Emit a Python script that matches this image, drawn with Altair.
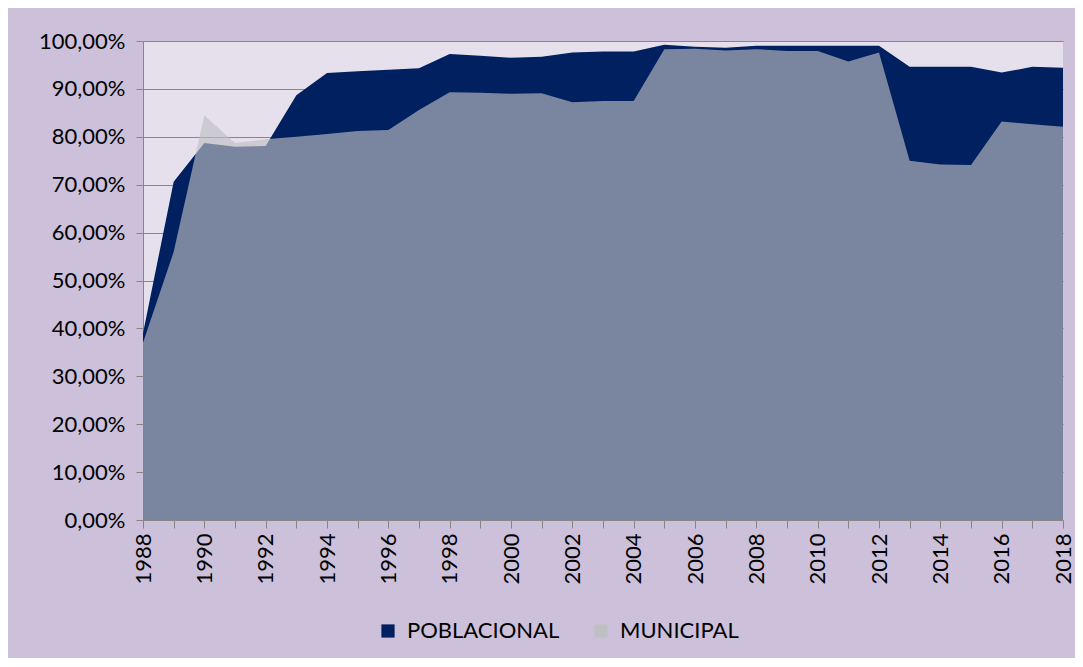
import altair as alt
import pandas as pd

years = list(range(1988, 2019))
poblacional = [39.0, 70.6, 78.7, 77.9, 78.1, 88.7, 93.3, 93.7, 94.0, 94.3, 97.3, 96.9,
               96.5, 96.7, 97.6, 97.8, 97.8, 99.2, 98.8, 98.6, 99.0, 99.0, 99.0, 99.0,
               99.0, 94.6, 94.6, 94.6, 93.4, 94.6, 94.4]
municipal = [37.0, 56.0, 84.5, 78.7, 79.5, 80.0, 80.6, 81.2, 81.4, 85.6, 89.3, 89.2,
             89.0, 89.1, 87.2, 87.5, 87.5, 98.3, 98.4, 98.0, 98.3, 97.9, 97.9, 95.7,
             97.6, 75.0, 74.2, 74.1, 83.2, 82.6, 82.1]
series_names = ["POBLACIONAL", "MUNICIPAL"]
series_colors = ["#002060", "#bfbfc3"]

rows = []
for y, p, m in zip(years, poblacional, municipal):
    rows.append({"year": y, "value": p / 100, "serie": "POBLACIONAL"})
    rows.append({"year": y, "value": m / 100, "serie": "MUNICIPAL"})
df = pd.DataFrame(rows)

FONT = "Lato"

color = alt.Color(
    "serie:N",
    scale=alt.Scale(domain=series_names, range=series_colors),
    legend=alt.Legend(
        title=None, orient="none", direction="horizontal",
        legendX=234, legendY=579, symbolType="square", symbolSize=175,
        symbolOpacity=1, symbolStrokeWidth=0,
        labelFontSize=22, labelFont=FONT, labelColor="#000000",
        columnPadding=30, labelOffset=8,
    ),
)

x = alt.X(
    "year:Q",
    scale=alt.Scale(domain=[1988, 2018], nice=False, zero=False),
    axis=alt.Axis(
        title=None, values=years, labelExpr="datum.value % 2 == 0 ? datum.value : ''",
        labelAngle=270, labelAlign="right", labelBaseline="middle",
        labelFontSize=22, labelFont=FONT, labelColor="#000000",
        tickSize=8, tickColor="#868686", domainColor="#868686",
        grid=False, labelPadding=5, labelOverlap=False,
    ),
)
y = alt.Y(
    "value:Q",
    stack=None,
    scale=alt.Scale(domain=[0, 1], nice=False),
    axis=alt.Axis(
        title=None, values=[i / 10 for i in range(11)],
        labelExpr="replace(format(datum.value, '.2%'), '.', ',')",
        labelFontSize=22, labelFont=FONT, labelColor="#000000",
        tickSize=7, tickColor="#868686", domainColor="#868686",
        grid=True, gridColor="#868686", gridWidth=1, labelPadding=11,
    ),
)

base = alt.Chart(df).encode(x=x, y=y, color=color)
pob = base.transform_filter("datum.serie == 'POBLACIONAL'").mark_area(opacity=1, interpolate="linear")
mun = base.transform_filter("datum.serie == 'MUNICIPAL'").mark_area(opacity=0.64, interpolate="linear")

chart = alt.layer(pob, mun).properties(
    width=920, height=479,
    background="#ccc0da",
    padding={"left": 135, "top": 33, "right": 12, "bottom": 138},
    autosize=alt.AutoSizeParams(type="none"),
).configure_view(fill="#e6e0ec", stroke=None)

chart.save("out.html", embed_options={"renderer": "svg", "actions": False})
